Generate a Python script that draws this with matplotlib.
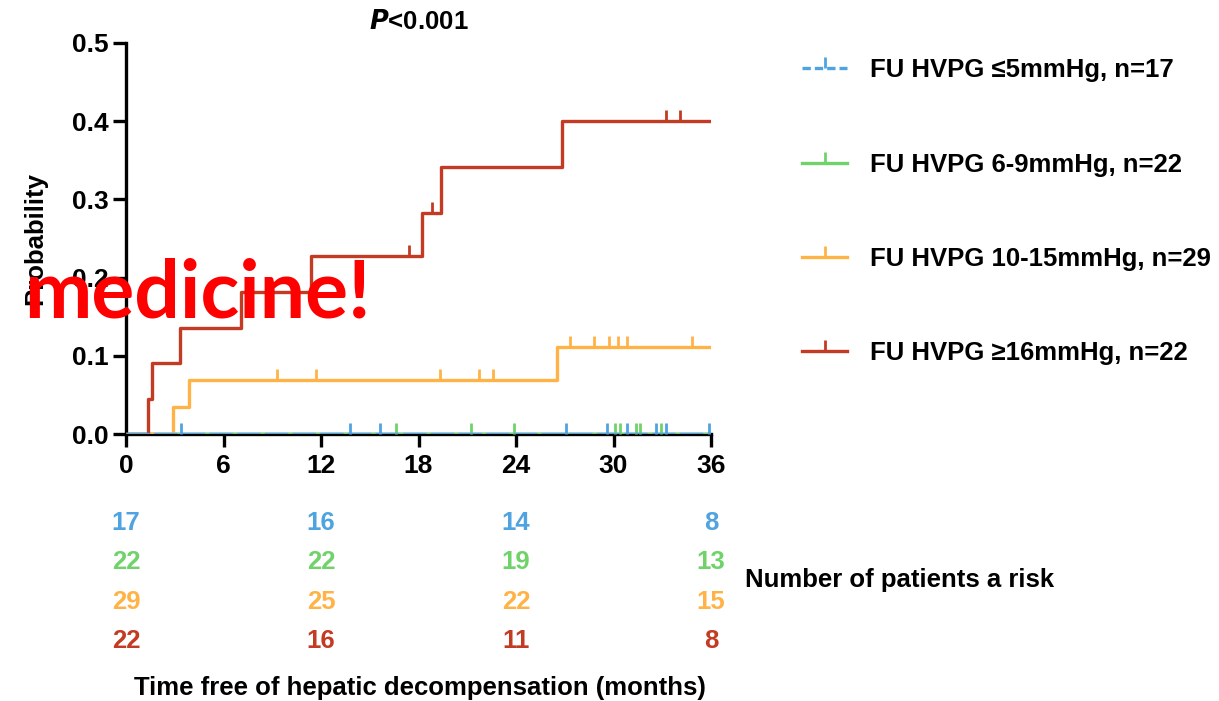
import matplotlib.pyplot as plt
import matplotlib.transforms as mtransforms
from matplotlib.lines import Line2D

plt.rcParams['font.family'] = ['Liberation Sans', 'DejaVu Sans']
plt.rcParams['font.weight'] = 'bold'

#### Data
labels = ['FU HVPG \u22645mmHg, n=17', 'FU HVPG 6-9mmHg, n=22',
          'FU HVPG 10-15mmHg, n=29', 'FU HVPG \u226516mmHg, n=22']
colors = ['#4FA3E0', '#6FD36A', '#FFB347', '#C23B22']

red_t = [0, 1.35, 1.6, 3.3, 7.1, 11.4, 18.2, 19.4, 26.8, 36]
red_p = [0, 0.045, 0.091, 0.136, 0.182, 0.227, 0.283, 0.341, 0.40, 0.40]
red_cens_t = [17.4, 18.8, 33.2, 34.1]
red_cens_p = [0.227, 0.283, 0.40, 0.40]

org_t = [0, 2.9, 3.9, 26.5, 36]
org_p = [0, 0.034, 0.069, 0.111, 0.111]
org_cens_t = [9.3, 11.7, 19.3, 21.7, 22.6, 27.3, 28.8, 29.7, 30.3, 30.8, 34.8]
org_cens_p = [0.069] * 5 + [0.111] * 6

grn_t = [0, 36]
grn_p = [0, 0]
grn_cens_t = [16.6, 21.2, 23.9, 30.1, 30.4, 31.4, 31.6, 32.9]

blu_t = [0, 36]
blu_p = [0, 0]
blu_cens_t = [3.4, 13.8, 15.6, 27.1, 29.6, 30.8, 32.6, 33.2, 35.9]

risk_times = [0, 12, 24, 36]
risk_blue = [17, 16, 14, 8]
risk_green = [22, 22, 19, 13]
risk_orange = [29, 25, 22, 15]
risk_red = [22, 16, 11, 8]

#### Figure
fig = plt.figure(figsize=(12.19, 7.01), dpi=100)
ax = fig.add_axes([126/1219, 1-434/701, (711-126)/1219, (434-43)/701])

lw = 2.4
fs = 18.5
blue_dash = (7, 1.3)
ax.step(grn_t, grn_p, where='post', color=colors[1], lw=lw, zorder=3)
ax.plot(grn_cens_t, [0]*len(grn_cens_t), ls='none', marker=2, ms=8, mew=2, color=colors[1], zorder=3)
ax.step(blu_t, blu_p, where='post', color=colors[0], lw=lw, dashes=blue_dash, zorder=4)
ax.plot(blu_cens_t, [0]*len(blu_cens_t), ls='none', marker=2, ms=8, mew=2, color=colors[0], zorder=4)
ax.step(org_t, org_p, where='post', color=colors[2], lw=lw, zorder=3)
ax.plot(org_cens_t, org_cens_p, ls='none', marker=2, ms=8, mew=2, color=colors[2], zorder=3)
ax.step(red_t, red_p, where='post', color=colors[3], lw=lw, zorder=3)
ax.plot(red_cens_t, red_cens_p, ls='none', marker=2, ms=8, mew=2, color=colors[3], zorder=3)

ax.set_xlim(0, 36)
ax.set_ylim(0, 0.5)
ax.set_xticks(range(0, 37, 6))
ax.set_yticks([0, 0.1, 0.2, 0.3, 0.4, 0.5])
ax.set_yticklabels(['0.0', '0.1', '0.2', '0.3', '0.4', '0.5'])
for s in ['top', 'right']:
    ax.spines[s].set_visible(False)
for s in ['left', 'bottom']:
    ax.spines[s].set_linewidth(2.4)
ax.tick_params(direction='out', length=9.5, width=2.4, labelsize=19, pad=3)
ax.tick_params(axis='x', pad=5)
for lab in ax.get_xticklabels() + ax.get_yticklabels():
    lab.set_fontweight('bold')
ax.set_ylabel('Probability', fontsize=fs, fontweight='bold', labelpad=18)

ax.set_title(r'$\bfit{P}$<0.001', fontsize=fs, fontweight='bold', pad=10)

#### Legend
handles = [Line2D([], [], color=colors[0], lw=lw, dashes=(2.5, 1.2), marker=2, ms=8, mew=2)]
for c in colors[1:]:
    handles.append(Line2D([], [], color=c, lw=lw, marker=2, ms=8, mew=2))
fig.legend(handles, labels, loc='upper left', bbox_to_anchor=(779/1219, 1-35/701),
           frameon=False, numpoints=1, handlelength=1.75, handletextpad=0.9,
           labelspacing=2.74, prop={'size': fs, 'weight': 'bold'})

#### Number at risk
trans = mtransforms.blended_transform_factory(ax.transData, fig.transFigure)
rows = [risk_blue, risk_green, risk_orange, risk_red]
row_y = [523, 562, 602, 641]
for vals, c, py in zip(rows, colors, row_y):
    for t, v in zip(risk_times, vals):
        ax.text(t, 1-py/701, str(v), transform=trans, ha='center', va='center',
                color=c, fontsize=fs, fontweight='bold')
fig.text(745/1219, 1-580/701, 'Number of patients a risk', ha='left', va='center',
         fontsize=fs, fontweight='bold')
fig.text(420/1219, 1-688/701, 'Time free of hepatic decompensation (months)',
         ha='center', va='center', fontsize=fs, fontweight='bold')

#### Watermark
fig.text(197/1219, 1-294/701, 'medicine!', ha='center', va='center', color='#FF0000',
         fontsize=58, fontweight='bold', family=['Lato', 'DejaVu Sans'], zorder=10)

fig.savefig('out.png', dpi=100)
